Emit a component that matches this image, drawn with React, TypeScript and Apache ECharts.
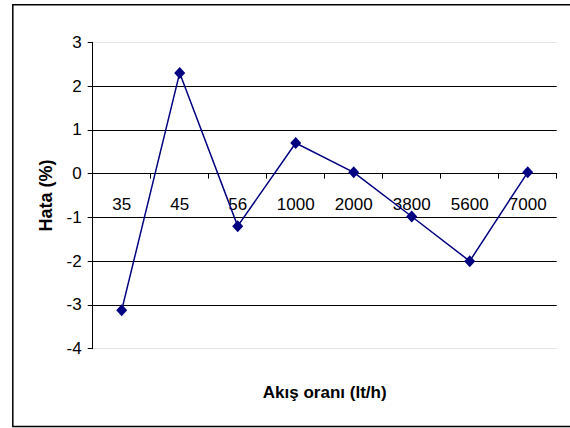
import React, { useEffect, useRef } from "react";
import * as echarts from "echarts";

const categories = ["35", "45", "56", "1000", "2000", "3800", "5600", "7000"];
const hataValues = [-3.12, 2.3, -1.2, 0.7, 0.03, -0.98, -2.0, 0.03];
const yTicks = { min: -4, max: 3, interval: 1 };
const xTitle = "Akış oranı (lt/h)";
const yTitle = "Hata (%)";

const FONT = "Arial, 'Liberation Sans', sans-serif";

export default function App() {
  const ref = useRef<HTMLDivElement>(null);
  useEffect(() => {
    if (!ref.current) return;
    const chart = echarts.init(ref.current, undefined, { renderer: "svg" });
    const W = 570;
    const H = 428;
    const gridLeft = 92.7;
    const gridRight = 13.3;
    const gridTop = 42.3;
    const gridBottom = 79.3;
    const plotH = H - gridTop - gridBottom;
    const zeroOffset = -(plotH * (0 - yTicks.min)) / (yTicks.max - yTicks.min);
    chart.setOption({
      animation: false,
      backgroundColor: "#ffffff",
      grid: { left: gridLeft, right: gridRight, top: gridTop, bottom: gridBottom, containLabel: false },
      xAxis: {
        type: "category",
        data: categories,
        boundaryGap: true,
        offset: zeroOffset,
        axisLine: { onZero: false, lineStyle: { color: "#000", width: 1 } },
        axisTick: { show: true, inside: false, length: 5, lineStyle: { color: "#000" } },
        axisLabel: { color: "#000", fontSize: 17, fontFamily: FONT, margin: 22 },
        splitLine: { show: false },
      },
      yAxis: {
        type: "value",
        min: yTicks.min,
        max: yTicks.max,
        interval: yTicks.interval,
        axisLine: { show: true, lineStyle: { color: "#000", width: 1 } },
        axisTick: { show: true, inside: false, length: 5, lineStyle: { color: "#000" } },
        axisLabel: { color: "#000", fontSize: 17, fontFamily: FONT, margin: 11 },
        splitLine: {
          show: true,
          lineStyle: {
            color: ["#e4e4e4", "#000", "#000", "#000", "#000", "#000", "#000", "#e4e4e4"],
            width: 1,
          },
        },
      },
      series: [
        {
          type: "line",
          data: hataValues,
          symbol: "diamond",
          symbolSize: [11, 12],
          itemStyle: { color: "#000080" },
          lineStyle: { color: "#000080", width: 1.5 },
          z: 5,
        },
      ],
      graphic: [
        {
          type: "rect",
          shape: { x: 12.8, y: 4.8, width: 570, height: 421.7 },
          style: { fill: "none", stroke: "#000", lineWidth: 1.5 },
          silent: true,
          z: 0,
        },
        {
          type: "text",
          x: (gridLeft + (W - gridRight)) / 2,
          y: 392,
          style: {
            text: xTitle,
            fill: "#000",
            font: `bold 17px ${FONT}`,
            textAlign: "center",
            textVerticalAlign: "middle",
          },
        },
        {
          type: "text",
          x: 46,
          y: (gridTop + (H - gridBottom)) / 2,
          rotation: Math.PI / 2,
          style: {
            text: yTitle,
            fill: "#000",
            font: `bold 18px ${FONT}`,
            textAlign: "center",
            textVerticalAlign: "middle",
          },
        },
      ],
    });
    return () => chart.dispose();
  }, []);
  return (
    <div
      ref={ref}
      style={{ position: "fixed", left: 0, top: 0, width: 570, height: 428 }}
    />
  );
}
